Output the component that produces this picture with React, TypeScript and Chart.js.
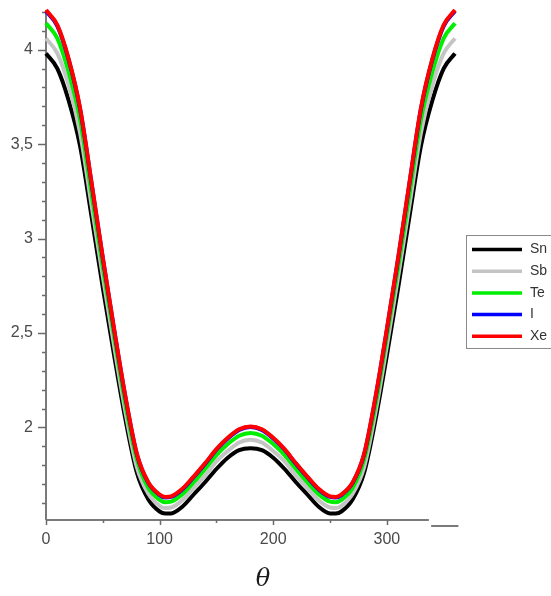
import React, { useEffect, useRef } from "react";
import { Chart, registerables } from "chart.js";
Chart.register(...registerables);

// theta (degrees)
const theta = [0,10,20,30,40,50,60,70,80,90,100,105,110,120,130,140,150,160,170,180,190,200,210,220,230,240,250,255,260,270,280,290,300,310,320,330,340,350,360];

const sn = [3.98,3.90,3.73,3.49,3.12,2.74,2.38,2.04,1.76,1.62,1.555,1.545,1.545,1.58,1.645,1.71,1.78,1.84,1.88,1.89,1.88,1.84,1.78,1.71,1.645,1.58,1.545,1.545,1.555,1.62,1.76,2.04,2.38,2.74,3.12,3.49,3.73,3.90,3.98];
const sb = [4.06,3.98,3.81,3.56,3.18,2.80,2.43,2.08,1.79,1.65,1.585,1.573,1.576,1.615,1.68,1.745,1.82,1.875,1.92,1.935,1.92,1.875,1.82,1.745,1.68,1.615,1.576,1.573,1.585,1.65,1.79,2.08,2.43,2.80,3.18,3.56,3.81,3.98,4.06];
const te = [4.14,4.06,3.88,3.63,3.24,2.85,2.48,2.12,1.83,1.68,1.617,1.604,1.607,1.647,1.71,1.78,1.853,1.912,1.956,1.971,1.956,1.912,1.853,1.78,1.71,1.647,1.607,1.604,1.617,1.68,1.83,2.12,2.48,2.85,3.24,3.63,3.88,4.06,4.14];
const iod = [4.205,4.125,3.945,3.685,3.295,2.895,2.515,2.156,1.857,1.707,1.642,1.629,1.632,1.672,1.737,1.807,1.882,1.942,1.987,2.002,1.987,1.942,1.882,1.807,1.737,1.672,1.632,1.629,1.642,1.707,1.857,2.156,2.515,2.895,3.295,3.685,3.945,4.125,4.205];
const xe = [4.21,4.13,3.95,3.69,3.30,2.90,2.52,2.16,1.86,1.71,1.645,1.632,1.635,1.675,1.74,1.81,1.885,1.945,1.99,2.005,1.99,1.945,1.885,1.81,1.74,1.675,1.635,1.632,1.645,1.71,1.86,2.16,2.52,2.90,3.30,3.69,3.95,4.13,4.21];

const seriesNames = ["Sn", "Sb", "Te", "I", "Xe"];
const seriesData = [sn, sb, te, iod, xe];
const seriesColors = ["#000000", "#c4c4c4", "#00ee00", "#0000ff", "#ff0000"];

const xTickValues = [0, 100, 200, 300];
const xTickLabels = ["0", "100", "200", "300"];
const yTickValues = [2, 2.5, 3, 3.5, 4];
const yTickLabels = ["2", "2,5", "3", "3,5", "4"];
const xMinorTicks = [50, 150, 250];
const xAxisEnd = 337;
const xAxisDash = [339, 363];
const yMin = 1.51;
const yMax = 4.21;
const xTitle = "θ";

const axesPlugin = {
  id: "mapleAxes",
  beforeDatasetsDraw(chart: any) {
    const ctx = chart.ctx;
    const xs = chart.scales.x;
    const ys = chart.scales.y;
    const { left, top, bottom } = chart.chartArea;
    ctx.save();
    ctx.strokeStyle = "#7a7a7a";
    ctx.lineWidth = 2;
    ctx.beginPath();
    ctx.moveTo(left, top);
    ctx.lineTo(left, bottom);
    ctx.stroke();
    ctx.beginPath();
    ctx.moveTo(left, bottom);
    ctx.lineTo(xs.getPixelForValue(xAxisEnd), bottom);
    ctx.stroke();
    ctx.beginPath();
    ctx.moveTo(xs.getPixelForValue(xAxisDash[0]), bottom + 6);
    ctx.lineTo(xs.getPixelForValue(xAxisDash[1]), bottom + 6);
    ctx.stroke();
    ctx.strokeStyle = "#6a6a6a";
    ctx.lineWidth = 1.5;
    for (let k = 16; k <= 42; k++) {
      const v = k / 10;
      const py = Math.round(ys.getPixelForValue(v)) + 0.5;
      const len = k % 5 === 0 ? 8 : 4;
      ctx.beginPath();
      ctx.moveTo(left - len, py);
      ctx.lineTo(left, py);
      ctx.stroke();
    }
    for (const v of xTickValues) {
      const px = Math.round(xs.getPixelForValue(v)) + 0.5;
      ctx.beginPath();
      ctx.moveTo(px, bottom);
      ctx.lineTo(px, bottom + 5);
      ctx.stroke();
    }
    for (const v of xMinorTicks) {
      const px = Math.round(xs.getPixelForValue(v)) + 0.5;
      ctx.beginPath();
      ctx.moveTo(px, bottom);
      ctx.lineTo(px, bottom + 3);
      ctx.stroke();
    }
    ctx.restore();
  },
  afterDraw(chart: any) {
    const ctx = chart.ctx;
    const xs = chart.scales.x;
    ctx.save();
    const bx = 466.5, by = 235.5;
    ctx.strokeStyle = "#8a8a8a";
    ctx.lineWidth = 1;
    ctx.fillStyle = "#ffffff";
    ctx.fillRect(bx, by, 100, 113);
    ctx.strokeRect(bx, by, 100, 113);
    ctx.font = '14px "Liberation Sans"';
    ctx.textBaseline = "middle";
    ctx.textAlign = "left";
    chart.data.datasets.forEach((ds: any, i: number) => {
      const y = 249.5 + i * 21.7;
      ctx.strokeStyle = ds.borderColor;
      ctx.lineWidth = 3.5;
      ctx.beginPath();
      ctx.moveTo(472, y);
      ctx.lineTo(522, y);
      ctx.stroke();
      ctx.fillStyle = "#333333";
      ctx.fillText(ds.label, 530, y);
    });
    ctx.font = 'italic 24px "DejaVu Serif"';
    ctx.textAlign = "center";
    ctx.fillStyle = "#1a1a1a";
    ctx.fillText(xTitle, xs.getPixelForValue(191), 580);
    ctx.restore();
  },
};

export default function App() {
  const ref = useRef<HTMLCanvasElement>(null);
  useEffect(() => {
    if (!ref.current) return;
    Chart.defaults.font.family = '"Liberation Sans", Arial, sans-serif';
    const datasets = seriesNames.map((name, i) => ({
      label: name,
      data: theta.map((t, j) => ({ x: t, y: seriesData[i][j] })),
      borderColor: seriesColors[i],
      backgroundColor: seriesColors[i],
      borderWidth: 4,
      pointRadius: 0,
      cubicInterpolationMode: "monotone" as const,
      fill: false,
      clip: false as any,
      order: seriesNames.length - 1 - i,
    }));
    const chart = new Chart(ref.current, {
      type: "line",
      data: { datasets },
      options: {
        responsive: false,
        animation: false,
        layout: { padding: { top: 10, right: 96, left: 0, bottom: 0 } },
        plugins: { legend: { display: false }, tooltip: { enabled: false } },
        scales: {
          x: {
            type: "linear",
            min: 0,
            max: 360,
            grid: { display: false, drawTicks: false },
            border: { display: false },
            afterBuildTicks: (s: any) => {
              s.ticks = xTickValues.map((v) => ({ value: v }));
            },
            afterFit: (s: any) => {
              s.height = 76;
              s.paddingLeft = 0;
              s.paddingRight = 0;
              s.paddingTop = 0;
              s.paddingBottom = 0;
            },
            ticks: {
              padding: 10,
              maxRotation: 0,
              color: "#4a4a4a",
              font: { size: 16 },
              callback: (v: any) => {
                const i = xTickValues.indexOf(Number(v));
                return i >= 0 ? xTickLabels[i] : "";
              },
            },
          },
          y: {
            type: "linear",
            min: yMin,
            max: yMax,
            grid: { display: false, drawTicks: false },
            border: { display: false },
            afterBuildTicks: (s: any) => {
              s.ticks = yTickValues.map((v) => ({ value: v }));
            },
            afterFit: (s: any) => {
              s.width = 46;
              s.paddingLeft = 0;
              s.paddingRight = 0;
              s.paddingTop = 0;
              s.paddingBottom = 0;
            },
            ticks: {
              padding: 13,
              color: "#4a4a4a",
              font: { size: 16 },
              callback: (v: any) => {
                const i = yTickValues.indexOf(Number(v));
                return i >= 0 ? yTickLabels[i] : "";
              },
            },
          },
        },
      },
      plugins: [axesPlugin],
    });
    return () => chart.destroy();
  }, []);
  return (
    <div style={{ position: "fixed", left: 0, top: 0, width: 551, height: 596, background: "#fff" }}>
      <canvas ref={ref} width={551} height={596} style={{ display: "block", width: 551, height: 596 }} />
    </div>
  );
}
